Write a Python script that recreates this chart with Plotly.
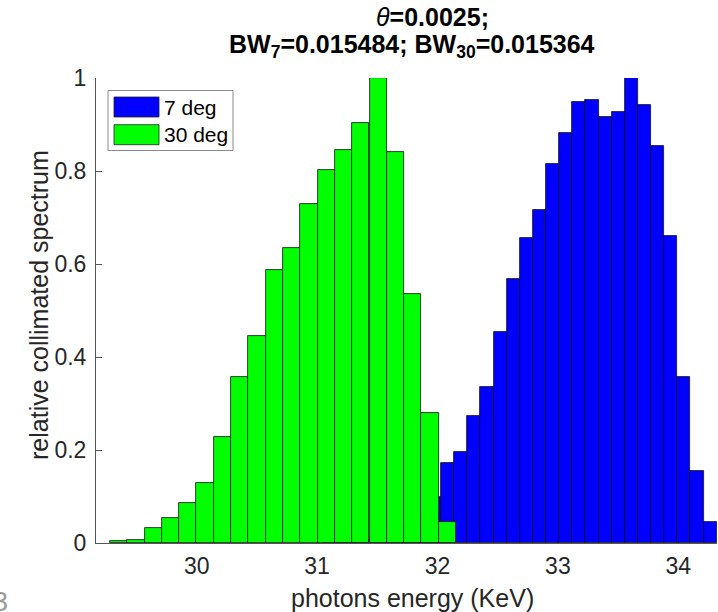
import plotly.graph_objects as go

# ---------------- data ----------------
energy_30deg = [29.352, 29.495, 29.639, 29.783, 29.926, 30.070, 30.214, 30.358, 30.501, 30.645,
                30.789, 30.932, 31.076, 31.220, 31.363, 31.507, 31.651, 31.794, 31.938, 32.082]
spectrum_30deg = [0.0035, 0.007, 0.032, 0.054, 0.086, 0.130, 0.228, 0.356, 0.446, 0.588,
                  0.634, 0.729, 0.802, 0.846, 0.904, 1.000, 0.841, 0.536, 0.280, 0.046]
binwidth_30deg = 0.1437

energy_7deg = [31.104, 31.213, 31.322, 31.431, 31.540, 31.648, 31.757, 31.866, 31.975, 32.084,
               32.193, 32.302, 32.411, 32.520, 32.629, 32.738, 32.847, 32.956, 33.065, 33.174,
               33.283, 33.392, 33.501, 33.610, 33.719, 33.828, 33.937, 34.046, 34.155, 34.264]
spectrum_7deg = [0.0, 0.0, 0.003, 0.006, 0.012, 0.022, 0.040, 0.065, 0.100, 0.172,
                 0.196, 0.274, 0.335, 0.454, 0.568, 0.657, 0.716, 0.816, 0.881, 0.948,
                 0.953, 0.917, 0.926, 1.000, 0.943, 0.853, 0.661, 0.356, 0.154, 0.045]
binwidth_7deg = 0.10897

series_names = ["7 deg", "30 deg"]
series_colors = ["#0000FF", "#00FF00"]
x_ticks = [30, 31, 32, 33, 34]
y_ticks = [0, 0.2, 0.4, 0.6, 0.8, 1]
y_ticklabels = ["0", "0.2", "0.4", "0.6", "0.8", "1"]
x_label = "photons energy (KeV)"
y_label = "relative collimated spectrum"
title_line1 = "<i>θ</i><b>=0.0025;</b>"
title_line2 = "<b>BW<sub>7</sub>=0.015484; BW<sub>30</sub>=0.015364</b>"

# ---------------- geometry ----------------
W, H = 718, 612
ML, MR, MT, MB = 96, 1, 78, 69
PW, PH = W - ML - MR, H - MT - MB
FONT = "Liberation Sans, Arial, Helvetica, sans-serif"
TXT = "#262626"


def px(xp):
    return (xp - ML) / PW


def py(yp):
    return (MT + PH - yp) / PH


fig = go.Figure()
fig.add_trace(go.Bar(x=energy_7deg, y=spectrum_7deg, width=binwidth_7deg, name=series_names[0],
                     marker=dict(color=series_colors[0], line=dict(color="#111111", width=0.8)),
                     showlegend=False))
fig.add_trace(go.Bar(x=energy_30deg, y=spectrum_30deg, width=binwidth_30deg, name=series_names[1],
                     marker=dict(color=series_colors[1], line=dict(color="#111111", width=0.8)),
                     showlegend=False))

shapes = []
annotations = []
# legend box
shapes.append(dict(type="rect", xref="paper", yref="paper", x0=px(108), x1=px(233), y0=py(150.5), y1=py(90.5),
                   line=dict(color="#8a8a8a", width=1), fillcolor="white", layer="above"))
for i, (nm, col) in enumerate(zip(series_names, series_colors)):
    top = 97 + i * 27.7
    shapes.append(dict(type="rect", xref="paper", yref="paper", x0=px(114), x1=px(159), y0=py(top + 20), y1=py(top),
                       line=dict(color="#222222", width=0.8), fillcolor=col, layer="above"))
    annotations.append(dict(text=nm, xref="paper", yref="paper", x=px(162), y=py(top + 10), xanchor="left",
                            yanchor="middle", showarrow=False, font=dict(family=FONT, size=21, color="black")))

# title
annotations.append(dict(text=title_line1, xref="paper", yref="paper", x=px(432), y=py(17), xanchor="center",
                        yanchor="middle", showarrow=False, font=dict(family=FONT, size=25, color="black")))
annotations.append(dict(text=title_line2, xref="paper", yref="paper", x=px(412), y=py(46), xanchor="center",
                        yanchor="middle", showarrow=False, font=dict(family=FONT, size=25, color="black")))
# axis labels
annotations.append(dict(text=x_label, xref="paper", yref="paper", x=px(412), y=py(598), xanchor="center",
                        yanchor="middle", showarrow=False, font=dict(family=FONT, size=25, color=TXT)))
annotations.append(dict(text=y_label, xref="paper", yref="paper", x=px(39), y=py(305), xanchor="center",
                        yanchor="middle", textangle=-90, showarrow=False, font=dict(family=FONT, size=25, color=TXT)))
# cut-off screenshot artifact at bottom-left
annotations.append(dict(text="3", xref="paper", yref="paper", x=px(10), y=py(602), xanchor="right",
                        yanchor="middle", showarrow=False, font=dict(family=FONT, size=27, color="#9a9a9a")))

fig.update_layout(
    width=W, height=H,
    margin=dict(l=ML, r=MR, t=MT, b=MB, pad=0),
    paper_bgcolor="white", plot_bgcolor="white",
    barmode="overlay", bargap=0,
    shapes=shapes, annotations=annotations,
    font=dict(family=FONT, color=TXT),
    xaxis=dict(range=[29.1636, 34.3214], tickvals=x_ticks, ticks="inside", ticklen=6, tickcolor="#444",
               showline=True, linecolor="#555", linewidth=1, showgrid=False, zeroline=False,
               tickfont=dict(family=FONT, size=23, color=TXT), layer="below traces", ticklabelstandoff=2),
    yaxis=dict(range=[0, 1], tickvals=y_ticks, ticktext=y_ticklabels, ticks="inside", ticklen=6, tickcolor="#555",
               showline=True, linecolor="#555", linewidth=1, showgrid=False, zeroline=False,
               tickfont=dict(family=FONT, size=23, color=TXT), ticklabelstandoff=4),
)

fig.write_html("out.html")
